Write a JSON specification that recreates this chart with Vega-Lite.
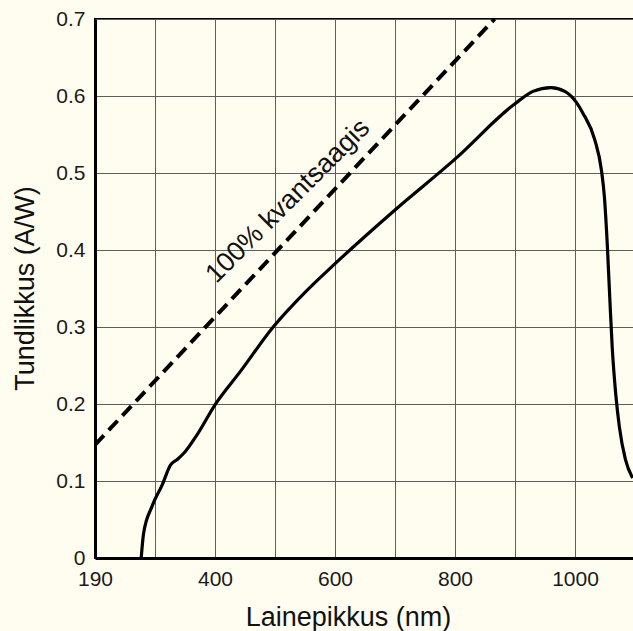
{
  "$schema": "https://vega.github.io/schema/vega-lite/v6.json",
  "width": 540,
  "height": 539,
  "autosize": "none",
  "padding": {"left": 95, "top": 19, "right": 0, "bottom": 73},
  "background": "#fffdf0",
  "config": {
    "view": {"stroke": "#000000", "strokeWidth": 2, "fill": "#fffdf0"},
    "font": "Liberation Sans",
    "axis": {
      "labelFont": "Liberation Sans",
      "titleFont": "Liberation Sans",
      "labelFontSize": 21,
      "titleFontSize": 27,
      "titleFontWeight": "normal",
      "labelColor": "#1a1a1a",
      "titleColor": "#111111",
      "domainColor": "#000000",
      "domainWidth": 3,
      "gridColor": "#5e5e5e",
      "gridWidth": 1,
      "gridOpacity": 1,
      "ticks": false,
      "tickSize": 0
    }
  },
  "datasets": {
    "curve": [
      {"nm": 277, "r": 0.0},
      {"nm": 281, "r": 0.032},
      {"nm": 295, "r": 0.067},
      {"nm": 312, "r": 0.095},
      {"nm": 326, "r": 0.121},
      {"nm": 337, "r": 0.128},
      {"nm": 348, "r": 0.136},
      {"nm": 370, "r": 0.16},
      {"nm": 400, "r": 0.199},
      {"nm": 442, "r": 0.242},
      {"nm": 497, "r": 0.300},
      {"nm": 550, "r": 0.345},
      {"nm": 597, "r": 0.380},
      {"nm": 700, "r": 0.452},
      {"nm": 800, "r": 0.518},
      {"nm": 900, "r": 0.590},
      {"nm": 930, "r": 0.606},
      {"nm": 960, "r": 0.611},
      {"nm": 983, "r": 0.606},
      {"nm": 1002, "r": 0.592},
      {"nm": 1013, "r": 0.578},
      {"nm": 1033, "r": 0.543},
      {"nm": 1044, "r": 0.504},
      {"nm": 1049, "r": 0.469},
      {"nm": 1054, "r": 0.404},
      {"nm": 1058, "r": 0.337},
      {"nm": 1062, "r": 0.274},
      {"nm": 1068, "r": 0.212},
      {"nm": 1074, "r": 0.170},
      {"nm": 1084, "r": 0.128},
      {"nm": 1096, "r": 0.104}
    ],
    "ideal": [
      {"nm": 200, "r": 0.147},
      {"nm": 866, "r": 0.7}
    ],
    "note": [
      {"nm": 531, "r": 0.456, "label": "100% kvantsaagis"}
    ]
  },
  "layer": [
    {
      "data": {"name": "curve"},
      "mark": {"type": "line", "color": "#000000", "strokeWidth": 3.2, "interpolate": "monotone", "clip": true},
      "encoding": {
        "x": {
          "field": "nm", "type": "quantitative",
          "scale": {"domain": [200, 1100], "nice": false, "zero": false},
          "axis": {
            "values": [200, 300, 400, 500, 600, 700, 800, 900, 1000],
            "format": "d",
            "labelExpr": "datum.value == 200 ? '190' : (datum.value % 200 == 0 ? datum.label : '')",
            "labelBaseline": "alphabetic",
            "labelPadding": 27,
            "labelAlign": "center",
            "title": "Lainepikkus (nm)",
            "titleX": 253,
            "titleY": 67,
            "titleAlign": "center",
            "titleBaseline": "alphabetic",
            "titleAnchor": null
          }
        },
        "y": {
          "field": "r", "type": "quantitative",
          "scale": {"domain": [0, 0.7], "nice": false, "zero": true},
          "axis": {
            "values": [0, 0.1, 0.2, 0.3, 0.4, 0.5, 0.6, 0.7],
            "labelExpr": "datum.value == 0 ? '0' : format(datum.value, '.1f')",
            "labelPadding": 10,
            "title": "Tundlikkus (A/W)",
            "titleAngle": 270,
            "titleX": -62,
            "titleY": 269,
            "titleAlign": "center",
            "titleBaseline": "alphabetic"
          }
        }
      }
    },
    {
      "data": {"name": "ideal"},
      "mark": {"type": "line", "color": "#000000", "strokeWidth": 4, "strokeDash": [13, 7], "clip": true},
      "encoding": {
        "x": {"field": "nm", "type": "quantitative"},
        "y": {"field": "r", "type": "quantitative"}
      }
    },
    {
      "data": {"name": "note"},
      "mark": {"type": "text", "angle": -45, "align": "center", "baseline": "alphabetic", "fontSize": 27, "font": "Liberation Sans", "color": "#111111"},
      "encoding": {
        "x": {"field": "nm", "type": "quantitative"},
        "y": {"field": "r", "type": "quantitative"},
        "text": {"field": "label"}
      }
    }
  ]
}
